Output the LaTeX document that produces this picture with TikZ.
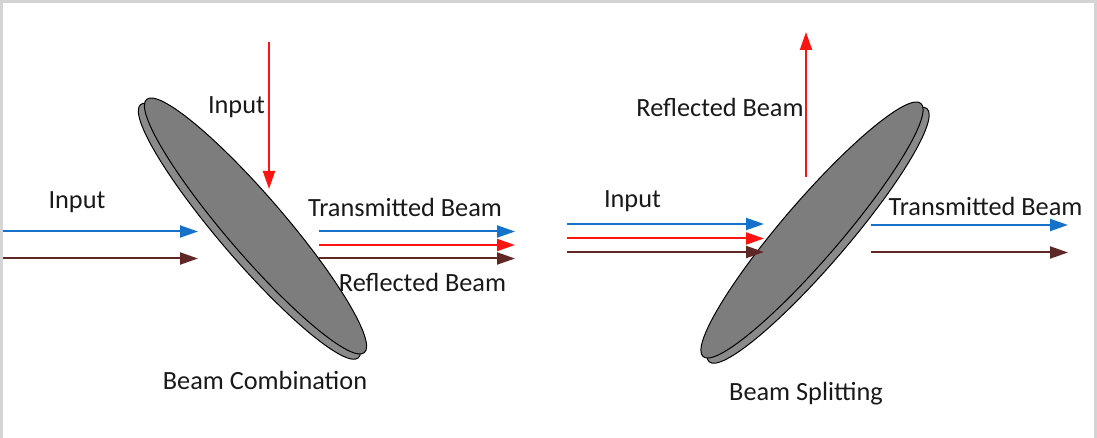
\documentclass[tikz,border=0pt]{standalone}
\usepackage{fontspec}
\setmainfont{Carlito}
\usepackage{tikz}
\usetikzlibrary{arrows.meta}
\definecolor{beamblue}{RGB}{21,114,200}
\definecolor{beamred}{RGB}{255,20,20}
\definecolor{beambrown}{RGB}{96,40,36}
\definecolor{diskgray}{RGB}{125,125,125}
\definecolor{rimgray}{RGB}{138,138,138}
\definecolor{framegray}{RGB}{212,212,212}
\tikzstyle{beam} = [line width=2pt, -{Triangle[length=18pt, width=12pt]}]
\tikzstyle{disk} = [draw=black, fill=diskgray, line width=1pt]
\tikzstyle{rim} = [draw=black, fill=rimgray, line width=1pt]
\tikzstyle{beamtext} = [inner sep=0pt, anchor=base, font=\fontsize{26.3}{31}\selectfont, text=black!90]

\begin{document}
\begin{tikzpicture}[x=1pt, y=-1pt]
\useasboundingbox (0,0) rectangle (1097,438);
\draw[framegray, line width=3pt] (1.5,438) -- (1.5,1.5) -- (1095.5,1.5) -- (1095.5,438);

\begin{scope}[shift={(255.5,226)}, rotate=-49.3]
\draw[rim] (0,8) ellipse [x radius=167, y radius=29];
\draw[disk] (0,0) ellipse [x radius=167, y radius=29];
\end{scope}
\begin{scope}[shift={(812,230)}, rotate=49.3]
\draw[rim] (0,8) ellipse [x radius=167, y radius=29];
\draw[disk] (0,0) ellipse [x radius=167, y radius=29];
\end{scope}

\coordinate (blueinL) at (3,231.5);
\coordinate (blueatL) at (198,231.5);
\coordinate (browninL) at (3,258.5);
\coordinate (brownatL) at (198,258.5);
\coordinate (redinL) at (269,42);
\coordinate (redatL) at (269,189);
\coordinate (blueoutL) at (319,231.5);
\coordinate (blueendL) at (515,231.5);
\coordinate (redoutL) at (319,245);
\coordinate (redendL) at (515,245);
\coordinate (brownoutL) at (319,258.5);
\coordinate (brownendL) at (515,258.5);
\draw[beam, beamblue] (blueinL) -- (blueatL);
\draw[beam, beambrown] (browninL) -- (brownatL);
\draw[beam, beamred] (redinL) -- (redatL);
\draw[beam, beamblue] (blueoutL) -- (blueendL);
\draw[beam, beamred] (redoutL) -- (redendL);
\draw[beam, beambrown] (brownoutL) -- (brownendL);

\coordinate (blueinR) at (567,224);
\coordinate (blueatR) at (764,224);
\coordinate (redinR) at (567,238.5);
\coordinate (redatR) at (764,238.5);
\coordinate (browninR) at (567,252);
\coordinate (brownatR) at (764,252);
\coordinate (redoutR) at (806,177);
\coordinate (redendR) at (806,32);
\coordinate (blueoutR) at (871,225);
\coordinate (blueendR) at (1068,225);
\coordinate (brownoutR) at (871,252.5);
\coordinate (brownendR) at (1068,252.5);
\draw[beam, beamblue] (blueinR) -- (blueatR);
\draw[beam, beamred] (redinR) -- (redatR);
\draw[beam, beambrown] (browninR) -- (brownatR);
\draw[beam, beamred] (redoutR) -- (redendR);
\draw[beam, beamblue] (blueoutR) -- (blueendR);
\draw[beam, beambrown] (brownoutR) -- (brownendR);

\node[beamtext] (inputtop) at (236.5,114) {Input};
\node[beamtext] (inputleft) at (77,209) {Input};
\node[beamtext] (transL) at (405,216.5) {Transmitted Beam};
\node[beamtext] (reflL) at (422.5,291) {Reflected Beam};
\node[beamtext] (combination) at (265,389) {Beam Combination};
\node[beamtext] (inputright) at (632.5,208) {Input};
\node[beamtext] (reflR) at (720,117) {Reflected Beam};
\node[beamtext] (transR) at (985.5,215.5) {Transmitted Beam};
\node[beamtext] (splitting) at (806,400) {Beam Splitting};
\end{tikzpicture}
\end{document}
